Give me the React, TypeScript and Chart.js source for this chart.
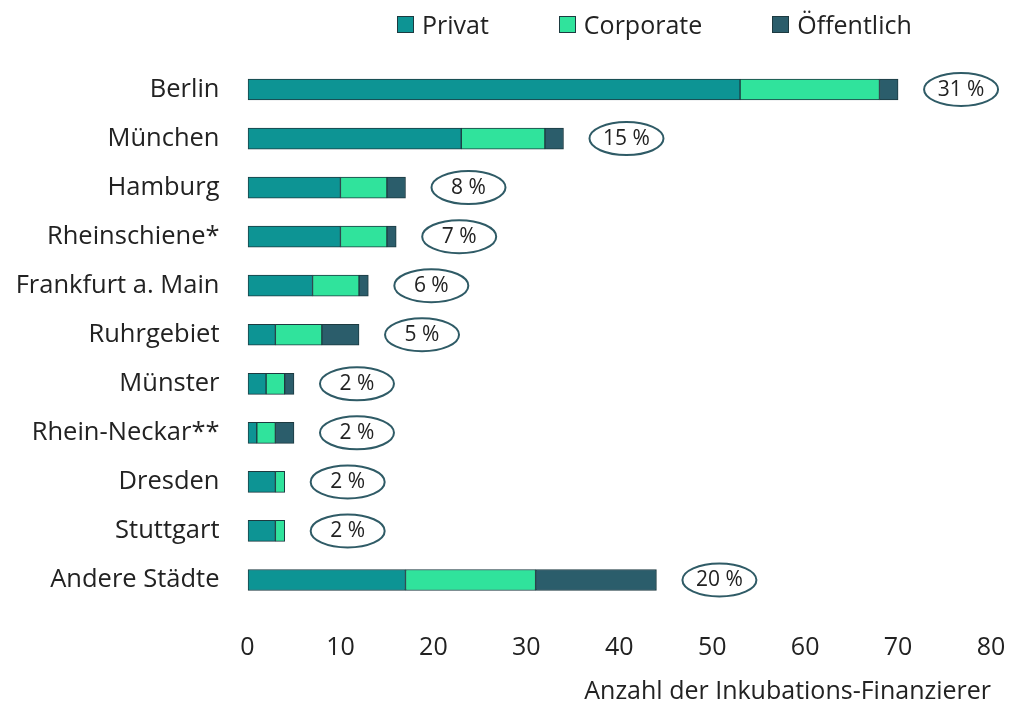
import React, { useEffect, useRef } from "react";
import { Chart, registerables } from "chart.js";

Chart.register(...registerables);

const categories = [
  "Berlin",
  "München",
  "Hamburg",
  "Rheinschiene*",
  "Frankfurt a. Main",
  "Ruhrgebiet",
  "Münster",
  "Rhein-Neckar**",
  "Dresden",
  "Stuttgart",
  "Andere Städte",
];
const privat = [53, 23, 10, 10, 7, 3, 2, 1, 3, 3, 17];
const corporate = [15, 9, 5, 5, 5, 5, 2, 2, 1, 1, 14];
const oeffentlich = [2, 2, 2, 1, 1, 4, 1, 2, 0, 0, 13];
const shares = [31, 15, 8, 7, 6, 5, 2, 2, 2, 2, 20];
const seriesNames = ["Privat", "Corporate", "Öffentlich"];
const xTicks = [0, 10, 20, 30, 40, 50, 60, 70, 80];

const COLORS = ["#0d9494", "#30e39c", "#2b5d6b"];
const BORDER = "#1d3a40";
const FONT = "'Open Sans', 'Noto Sans', sans-serif";

const ellipsePlugin = {
  id: "shareEllipses",
  afterDatasetsDraw(chart: any) {
    const { ctx } = chart;
    const xs = chart.scales.x;
    const ys = chart.scales.y;
    ctx.save();
    categories.forEach((_, i) => {
      const total = privat[i] + corporate[i] + oeffentlich[i];
      const cx = xs.getPixelForValue(total) + 63;
      const cy = ys.getPixelForValue(i);
      ctx.beginPath();
      ctx.ellipse(cx, cy, 37, 16.5, 0, 0, Math.PI * 2);
      ctx.fillStyle = "#ffffff";
      ctx.fill();
      ctx.lineWidth = 2;
      ctx.strokeStyle = "#2f5b66";
      ctx.stroke();
      ctx.fillStyle = "#222222";
      ctx.font = `21px ${FONT}`;
      ctx.textAlign = "center";
      ctx.textBaseline = "middle";
      ctx.fillText(`${shares[i]} %`, cx, cy);
    });
    ctx.restore();
  },
};

export default function App() {
  const ref = useRef<HTMLCanvasElement | null>(null);

  useEffect(() => {
    if (!ref.current) return;
    const values = [privat, corporate, oeffentlich];
    const chart = new Chart(ref.current, {
      type: "bar",
      data: {
        labels: categories,
        datasets: seriesNames.map((name, k) => ({
          label: name,
          data: values[k],
          backgroundColor: COLORS[k],
          borderColor: BORDER,
          borderWidth: 1,
          borderSkipped: false,
          barThickness: 21,
        })),
      },
      options: {
        indexAxis: "y",
        responsive: false,
        animation: false,
        layout: { padding: { top: 65, right: 22, bottom: 0, left: 0 } },
        plugins: {
          legend: { display: false },
          tooltip: { enabled: false },
        },
        scales: {
          x: {
            stacked: true,
            min: 0,
            max: 80,
            grid: {
              display: true,
              drawOnChartArea: false,
              drawTicks: true,
              tickLength: 28,
              color: "transparent",
              tickColor: "transparent",
            },
            border: { display: false },
            afterBuildTicks: (s: any) => {
              s.ticks = xTicks.map((v) => ({ value: v }));
            },
            afterFit: (s: any) => {
              s.height = 99.5;
            },
            ticks: {
              padding: 0,
              color: "#222222",
              font: { family: FONT, size: 25 },
            },
            title: {
              display: true,
              text: "Anzahl der Inkubations-Finanzierer",
              align: "end",
              color: "#222222",
              padding: { top: 0, bottom: -3 },
              font: { family: FONT, size: 25 },
            },
          },
          y: {
            stacked: true,
            grid: { display: false, drawTicks: false },
            border: { display: false },
            afterFit: (s: any) => {
              s.width = 247.5;
            },
            ticks: {
              padding: 28,
              color: "#222222",
              font: { family: FONT, size: 25.5 },
            },
          },
        },
      },
      plugins: [ellipsePlugin],
    });
    return () => chart.destroy();
  }, []);

  const legendItem = (name: string, color: string) => (
    <div key={name} style={{ display: "flex", alignItems: "center" }}>
      <span
        style={{
          display: "inline-block",
          width: 15,
          height: 15,
          background: color,
          border: `1.5px solid ${BORDER}`,
          marginRight: 8,
        }}
      />
      <span style={{ fontFamily: FONT, fontSize: 25, color: "#222222" }}>{name}</span>
    </div>
  );

  return (
    <div style={{ position: "fixed", left: 0, top: 0, width: 1013, height: 704, background: "#fff" }}>
      <canvas ref={ref} width={1013} height={704} style={{ display: "block" }} />
      <div
        style={{
          position: "absolute",
          left: 397,
          top: 9,
          display: "flex",
          gap: 70,
          lineHeight: "30px",
        }}
      >
        {seriesNames.map((n, k) => legendItem(n, COLORS[k]))}
      </div>
    </div>
  );
}
